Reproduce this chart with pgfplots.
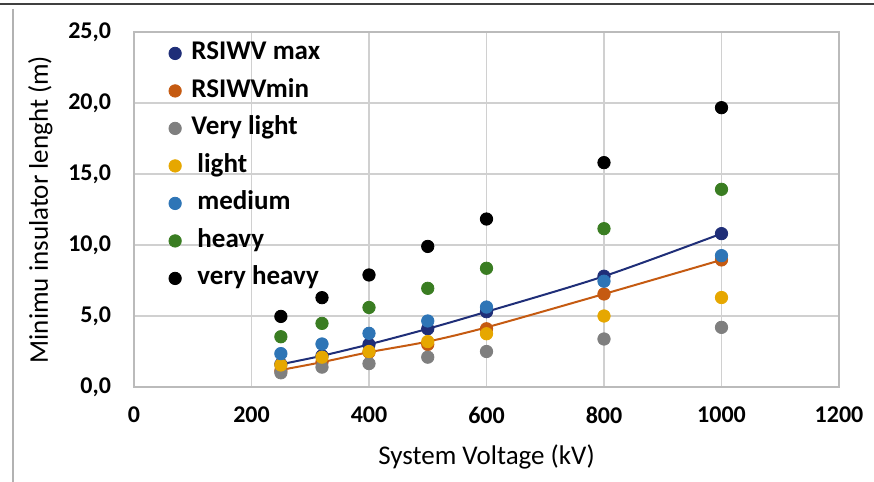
\documentclass[border=0pt]{standalone}
\usepackage{pgfplots}
\pgfplotsset{compat=1.18}
\usepackage{fontspec}
\setmainfont{Carlito}

\definecolor{cmax}{HTML}{1F2E78}
\definecolor{cmin}{HTML}{C55A11}
\definecolor{cvlight}{HTML}{7F7F7F}
\definecolor{clight}{HTML}{E6A700}
\definecolor{cmed}{HTML}{2E75B6}
\definecolor{cheavy}{HTML}{3A7D22}
\definecolor{cvheavy}{HTML}{000000}
\definecolor{gridc}{HTML}{D0D0D0}

\begin{document}
\begin{tikzpicture}
% page = 874x482 px at 0.5pt per px, origin at lower left of plot area
\useasboundingbox (-67pt,-47.5pt) rectangle (370pt,193.5pt);
\draw[black!75, line width=1.2pt] (-67pt,191.5pt) -- (370pt,191.5pt);
\draw[gray!60, line width=0.6pt] (-60.5pt,189pt) -- (-60.5pt,-47.5pt);
\begin{axis}[
    width=352.5pt, height=177.5pt,
    scale only axis,
    xmin=0, xmax=1200, ymin=0, ymax=25,
    xtick={0,200,...,1200},
    ytick={0,5,...,25},
    grid=major,
    major grid style={gridc, line width=0.7pt},
    axis line style={gridc!90!black, line width=0.7pt},
    major tick length=0pt,
    /pgf/number format/assume math mode=true,
    yticklabel style={/pgf/number format/fixed, /pgf/number format/fixed zerofill,
        /pgf/number format/precision=1, /pgf/number format/use comma, xshift=-8pt},
    xticklabel style={/pgf/number format/1000 sep={}, yshift=-6.5pt},
    tick label style={font=\fontsize{12}{14}\selectfont\bfseries},
    every axis x label/.style={at={(axis description cs:0.5,-0.197)}, anchor=center},
    every axis y label/.style={at={(axis description cs:-0.133,0.5)}, rotate=90, anchor=center},
    label style={font=\fontsize{13.5}{15}\selectfont},
    xlabel={System Voltage (kV)},
    ylabel={Minimu insulator lenght (m)},
    legend cell align=left,
    legend style={draw=none, fill=none, inner sep=0pt,
        at={(rel axis cs:0.049,0.976)}, anchor=north west,
        font=\fontsize{13.5}{15}\selectfont\bfseries,
        row sep=6.25pt, column sep=5pt,
        nodes={text height=9.5pt, text depth=3pt, inner sep=0pt}},
    every axis plot/.append style={only marks, mark=*, mark size=3.1pt},
]
\addplot[cmax, mark options={fill=cmax}] coordinates {
(250,1.6) (320,2.2) (400,3.0) (500,4.1) (600,5.3) (800,7.8) (1000,10.8)};
\addlegendentry{RSIWV max}
\addplot[cmin, mark options={fill=cmin}] coordinates {
(250,1.15) (320,1.75) (400,2.45) (500,3.0) (600,4.1) (800,6.55) (1000,8.95)};
\addlegendentry{RSIWVmin}
\addplot[cvlight, mark options={fill=cvlight}] coordinates {
(250,1.0) (320,1.4) (400,1.65) (500,2.1) (600,2.5) (800,3.38) (1000,4.2)};
\addlegendentry{Very light}
\addplot[clight, mark options={fill=clight}] coordinates {
(250,1.55) (320,2.1) (400,2.5) (500,3.2) (600,3.75) (800,5.0) (1000,6.3)};
\addlegendentry{\ light}
\addplot[cmed, mark options={fill=cmed}] coordinates {
(250,2.35) (320,3.03) (400,3.78) (500,4.65) (600,5.63) (800,7.45) (1000,9.25)};
\addlegendentry{\ medium}
\addplot[cheavy, mark options={fill=cheavy}] coordinates {
(250,3.54) (320,4.48) (400,5.6) (500,6.95) (600,8.36) (800,11.15) (1000,13.92)};
\addlegendentry{\ heavy}
\addplot[cvheavy, mark options={fill=cvheavy}] coordinates {
(250,4.97) (320,6.29) (400,7.89) (500,9.9) (600,11.83) (800,15.8) (1000,19.67)};
\addlegendentry{\ very heavy}
% trend lines
\addplot[cmax, no marks, sharp plot, smooth, line width=1pt, forget plot] coordinates {
(250,1.6) (320,2.2) (400,3.0) (500,4.1) (600,5.3) (800,7.8) (1000,10.8)};
\addplot[cmin, no marks, sharp plot, smooth, line width=1pt, forget plot] coordinates {
(250,1.2) (320,1.75) (400,2.45) (500,3.2) (600,4.2) (800,6.55) (1000,8.95)};
\end{axis}
\end{tikzpicture}
\end{document}
